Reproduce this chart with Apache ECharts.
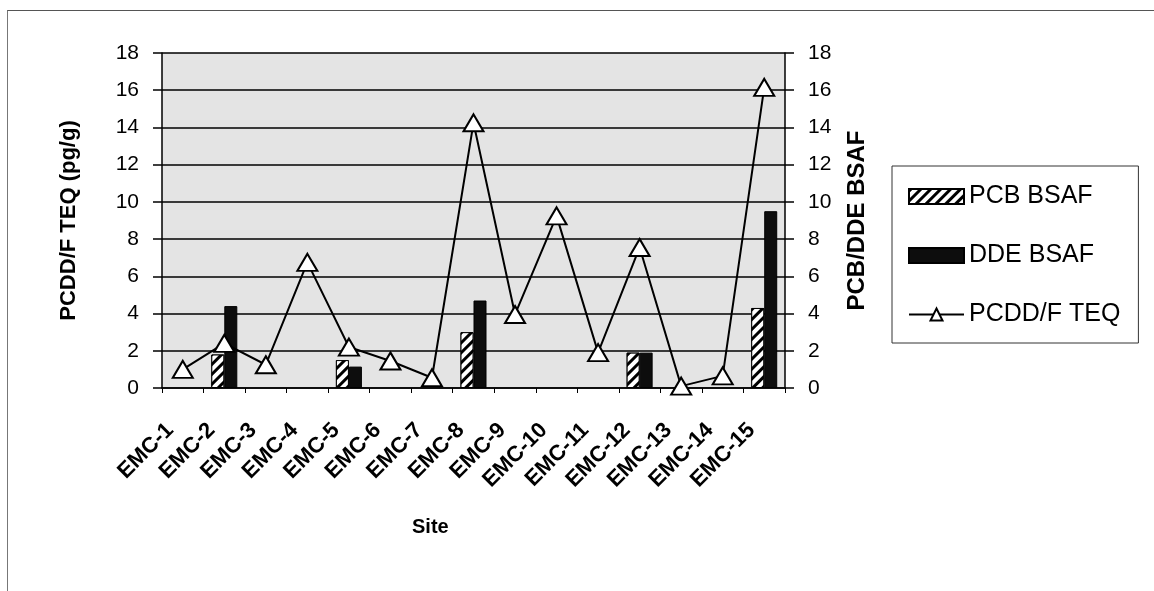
<!DOCTYPE html>
<html>
<head>
<meta charset="utf-8">
<script src="https://cdn.jsdelivr.net/npm/echarts@6/dist/echarts.min.js"></script>
<style>
  html, body { margin: 0; padding: 0; background: #fff; }
  #frame { position: absolute; left: 7px; top: 10px; right: 0; bottom: 0;
           border-top: 1px solid #555; border-left: 1px solid #777; }
  #chart { width: 1154px; height: 591px; }
</style>
</head>
<body>
<div id="frame"></div>
<div id="chart"></div>
<script>
// Site-level PCDD/F TEQ (left axis) and PCB / DDE BSAF (right axis)
const sites = ['EMC-1','EMC-2','EMC-3','EMC-4','EMC-5','EMC-6','EMC-7','EMC-8',
               'EMC-9','EMC-10','EMC-11','EMC-12','EMC-13','EMC-14','EMC-15'];
const pcbBsaf = ['-', 1.8, '-', '-', 1.5, '-', '-', 3.0, '-', '-', '-', 1.9, '-', '-', 4.3];
const ddeBsaf = ['-', 4.4, '-', '-', 1.15, '-', '-', 4.7, '-', '-', '-', 1.9, '-', '-', 9.5];
const teq = [1.0, 2.4, 1.25, 6.75, 2.2, 1.45, 0.55, 14.25, 3.95, 9.25, 1.9, 7.55, 0.1, 0.65, 16.15];

const FONT = '"Liberation Sans", Arial, sans-serif';
const ink = '#000';

const chart = echarts.init(document.getElementById('chart'), null, { renderer: 'canvas' });

const yAxisBase = {
  type: 'value', min: 0, max: 18, interval: 2,
  nameLocation: 'middle', nameRotate: 90,
  axisLine: { show: true, lineStyle: { color: ink, width: 1.5 } },
  axisTick: { show: true, length: 9, lineStyle: { color: ink, width: 1.5 } },
  axisLabel: { color: ink, fontFamily: FONT, fontSize: 21, margin: 23 }
};

chart.setOption({
  backgroundColor: 'transparent',
  animation: false,
  textStyle: { fontFamily: FONT },
  grid: { left: 162, right: 369, top: 53, bottom: 203, show: true,
          backgroundColor: '#e4e4e4', borderWidth: 0 },
  legend: {
    orient: 'vertical', left: 892, top: 166,
    padding: [18, 18, 16, 16], itemGap: 34,
    itemWidth: 55, itemHeight: 15,
    borderColor: '#333', borderWidth: 1,
    textStyle: { color: ink, fontFamily: FONT, fontSize: 25 },
    data: [{ name: 'PCB BSAF', icon: 'rect' }, { name: 'DDE BSAF', icon: 'rect' }, 'PCDD/F TEQ']
  },
  graphic: [{
    type: 'text', left: 433 - 21, top: 517,
    style: { text: 'Site', fill: ink, font: 'bold 20px ' + FONT }
  }],
  xAxis: {
    type: 'category', data: sites, boundaryGap: true,
    axisLine: { lineStyle: { color: ink, width: 1.5 } },
    axisTick: { show: true, length: 5, lineStyle: { color: ink } },
    axisLabel: { interval: 0, rotate: 45, color: ink, fontFamily: FONT, fontSize: 22,
                 fontWeight: 'bold', margin: 26, padding: [0, 18, 0, 0] }
  },
  yAxis: [
    Object.assign({}, yAxisBase, {
      position: 'left', name: 'PCDD/F TEQ (pg/g)', nameGap: 82,
      nameTextStyle: { color: ink, fontFamily: FONT, fontSize: 22, fontWeight: 'bold' },
      splitLine: { show: true, lineStyle: { color: ink, width: 1.5 } }
    }),
    Object.assign({}, yAxisBase, {
      position: 'right', name: 'PCB/DDE BSAF', nameGap: 60,
      nameTextStyle: { color: ink, fontFamily: FONT, fontSize: 24, fontWeight: 'bold' },
      splitLine: { show: false }
    })
  ],
  series: [
    {
      name: 'PCB BSAF', type: 'bar', yAxisIndex: 1, data: pcbBsaf,
      barWidth: 13, barGap: '0%',
      itemStyle: {
        color: '#fff', borderColor: ink, borderWidth: 1,
        decal: { symbol: 'rect', symbolSize: 1, dashArrayX: [1, 0], dashArrayY: [3, 4],
                 rotation: -Math.PI / 4, color: '#000', backgroundColor: '#fff' }
      }
    },
    {
      name: 'DDE BSAF', type: 'bar', yAxisIndex: 1, data: ddeBsaf,
      barWidth: 13, barGap: '0%',
      itemStyle: { color: '#0d0d0d', borderColor: ink, borderWidth: 1 }
    },
    {
      name: 'PCDD/F TEQ', type: 'line', yAxisIndex: 0, data: teq, z: 5,
      symbol: 'triangle', symbolSize: [20, 17],
      lineStyle: { color: ink, width: 2 },
      itemStyle: { color: '#fff', borderColor: ink, borderWidth: 2 }
    }
  ]
});
</script>
</body>
</html>
